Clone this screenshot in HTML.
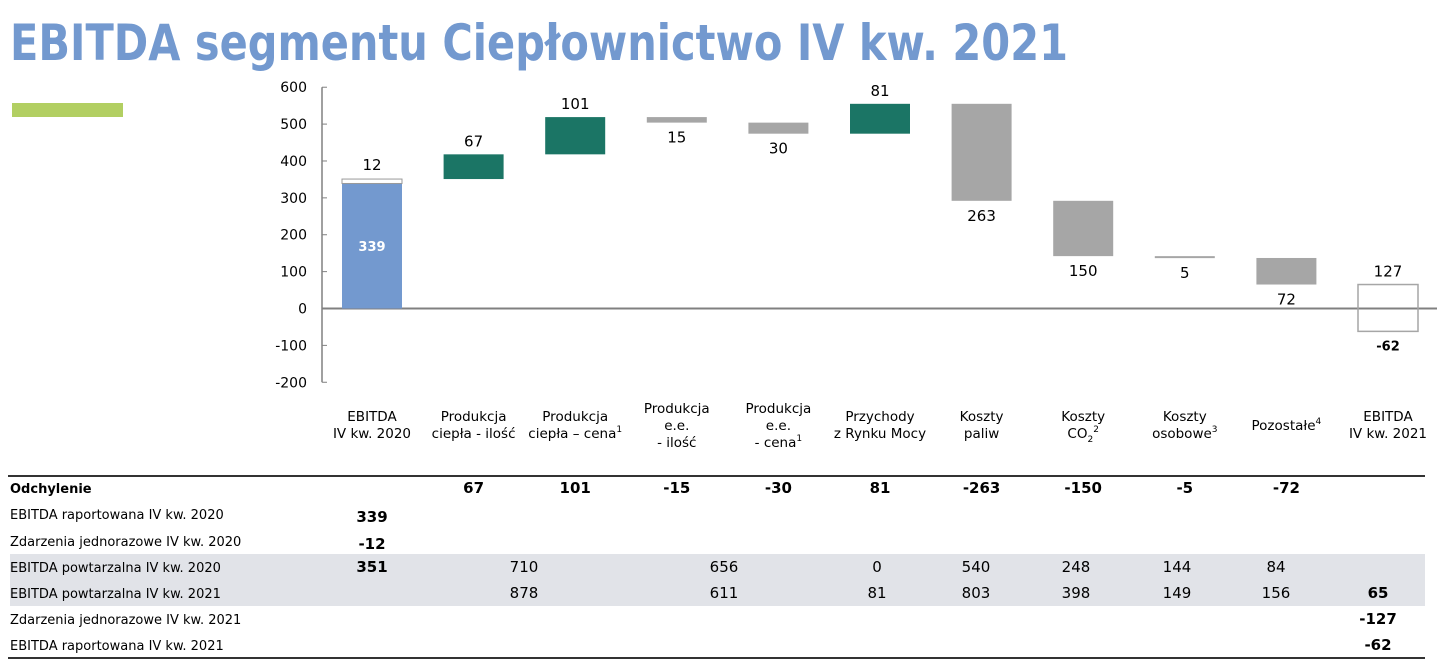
<!DOCTYPE html>
<html><head><meta charset="utf-8"><style>
html,body{margin:0;padding:0;background:#fff;}
svg{display:block;font-family:"DejaVu Sans","Liberation Sans",sans-serif;}
</style></head><body>
<svg id="chart" width="1437" height="661" viewBox="0 0 1437 661" xmlns="http://www.w3.org/2000/svg">
<text x="10" y="60" font-size="50" font-weight="bold" fill="#7399cf" textLength="1058" lengthAdjust="spacingAndGlyphs">EBITDA segmentu Ciepłownictwo IV kw. 2021</text>
<rect x="12" y="103" width="111" height="14" fill="#b2cf62"/>
<g id="axis"></g>
<g id="bars"></g>
<g id="cats"></g>
<g id="table"></g>
</svg>
<script>
const categories = ["EBITDA|IV kw. 2020","Produkcja|ciepła - ilość","Produkcja|ciepła – cena^1","Produkcja|e.e.|- ilość","Produkcja|e.e.|- cena^1","Przychody|z Rynku Mocy","Koszty|paliw","Koszty|CO_2^2","Koszty|osobowe^3","Pozostałe^4","EBITDA|IV kw. 2021"];
const startValue = 339;
const oneOff2020 = 12;
const deltas = [67,101,-15,-30,81,-263,-150,-5,-72];
const endRecurring = 65;
const oneOff2021 = 127;
const endReported = -62;
const yTicks = [600,500,400,300,200,100,0,-100,-200];
const rowLabels = ["Odchylenie","EBITDA raportowana IV kw. 2020","Zdarzenia jednorazowe IV kw. 2020","EBITDA powtarzalna IV kw. 2020","EBITDA powtarzalna IV kw. 2021","Zdarzenia jednorazowe IV kw. 2021","EBITDA raportowana IV kw. 2021"];
const recurring2020 = ["710","656","0","540","248","144","84"];
const recurring2021 = ["878","611","81","803","398","149","156"];

const NS="http://www.w3.org/2000/svg";
function mk(parent,tag,attrs,text){const e=document.createElementNS(NS,tag);for(const k in attrs)e.setAttribute(k,attrs[k]);if(text!==undefined)e.textContent=text;parent.appendChild(e);return e;}
const y=v=>308.5-v*0.3688;
const cx=i=>372+i*101.6;
const BW=60;
const axis=document.getElementById('axis'),bars=document.getElementById('bars'),cats=document.getElementById('cats'),tbl=document.getElementById('table');

let l=mk(axis,'line',{x1:322,x2:322,y1:y(600),y2:y(-200),stroke:'#808080','stroke-width':1.5});


yTicks.forEach(t=>{
  let tk=mk(axis,'line',{x1:322,x2:327,y1:y(t),y2:y(t),stroke:'#808080','stroke-width':1});
  
  
  let tx=mk(axis,'text',{x:307,y:y(t)+5,'font-size':14,'text-anchor':'end',fill:'#000'},String(t));
  
  
});
let zl=mk(axis,'line',{x1:322,x2:1437,y1:y(0),y2:y(0),stroke:'#808080','stroke-width':2});



function label(x,yy,txt,bold,fill){const t=mk(bars,'text',{x:x,y:yy,'font-size':bold?13:15,'font-weight':bold?'bold':'normal','text-anchor':'middle',fill:fill||'#000'},txt);

return t;}

// start bar
let r=mk(bars,'rect',{x:cx(0)-BW/2,y:y(startValue),width:BW,height:y(0)-y(startValue),fill:'#7399cf'});


let r2=mk(bars,'rect',{x:cx(0)-BW/2,y:y(startValue+oneOff2020),width:BW,height:y(startValue)-y(startValue+oneOff2020),fill:'#fff',stroke:'#999','stroke-width':1});


label(cx(0),y(startValue/2)+5,String(startValue),true,'#fff');
label(cx(0),y(startValue+oneOff2020)-9,String(oneOff2020));
let cum=startValue+oneOff2020;
deltas.forEach((d,i)=>{
  const a=cum,b=cum+d;const top=Math.max(a,b),bot=Math.min(a,b);
  const h=Math.max(y(bot)-y(top),2);
  let rr=mk(bars,'rect',{x:cx(i+1)-BW/2,y:y(top),width:BW,height:h,fill:d>=0?'#1b7565':'#a6a6a6'});
  
  
  if(d>=0) label(cx(i+1),y(top)-8,String(Math.abs(d)));
  else label(cx(i+1),y(bot)+20,String(Math.abs(d)));
  cum=b;
});
const last=categories.length-1;
let re=mk(bars,'rect',{x:cx(last)-BW/2,y:y(endRecurring),width:BW,height:y(endReported)-y(endRecurring),fill:'none',stroke:'#a6a6a6','stroke-width':1.5});


label(cx(last),y(endRecurring)-8,String(oneOff2021));
label(cx(last),y(endReported)+19,String(endReported),true);

// category labels
categories.forEach((c,i)=>{
  const lines=c.split('|');const n=lines.length;
  const y0=n===3?413:(n===2?421:430);
  lines.forEach((ln,j)=>{
    const t=mk(cats,'text',{x:cx(i),y:y0+j*17,'font-size':13.5,'text-anchor':'middle',fill:'#000'});
    
    
    const m=ln.match(/^([^_^]*)(?:_(\d))?(?:\^(\d))?$/);
    t.appendChild(document.createTextNode(m[1]));
    if(m[2]){const s=mk(t,'tspan',{'font-size':9,dy:4},m[2]);if(m[3]){mk(t,'tspan',{'font-size':9,dy:-10},m[3]);}}
    else if(m[3]){mk(t,'tspan',{'font-size':9,dy:-6},m[3]);}
  });
});

// table
let band=mk(tbl,'rect',{x:10,y:554,width:1415,height:52,fill:'#e1e3e8'});


[476,658].forEach(yy=>{let ln=mk(tbl,'line',{x1:8,x2:1425,y1:yy,y2:yy,stroke:'#333','stroke-width':2});

});
const rowY=[493,519,546,572,598,624,650];
function cell(x,yy,txt,opts){const t=mk(tbl,'text',Object.assign({x:x,y:yy,'font-size':14,fill:'#000'},opts||{}),txt);

return t;}
rowLabels.forEach((lb,i)=>{const t=cell(10,rowY[i],lb,i===0?{'font-weight':'bold','font-size':13}:{'font-size':13});});
deltas.forEach((d,i)=>cell(cx(i+1),rowY[0],String(d),{'font-weight':'bold','text-anchor':'middle','font-size':15}));
cell(372,rowY[1]+3,String(startValue),{'font-weight':'bold','text-anchor':'middle','font-size':15});
cell(372,rowY[2]+3,String(-oneOff2020),{'font-weight':'bold','text-anchor':'middle','font-size':15});
cell(372,rowY[3],String(startValue+oneOff2020),{'font-weight':'bold','text-anchor':'middle','font-size':15});
const rx=[524,724,877,976,1076,1177,1276];
recurring2020.forEach((v,i)=>cell(rx[i],rowY[3],v,{'text-anchor':'middle','font-size':15}));
recurring2021.forEach((v,i)=>cell(rx[i],rowY[4],v,{'text-anchor':'middle','font-size':15}));
cell(1378,rowY[4],String(endRecurring),{'font-weight':'bold','text-anchor':'middle','font-size':15});
cell(1378,rowY[5],String(-oneOff2021),{'font-weight':'bold','text-anchor':'middle','font-size':15});
cell(1378,rowY[6],String(endReported),{'font-weight':'bold','text-anchor':'middle','font-size':15});
</script>
</body></html>
